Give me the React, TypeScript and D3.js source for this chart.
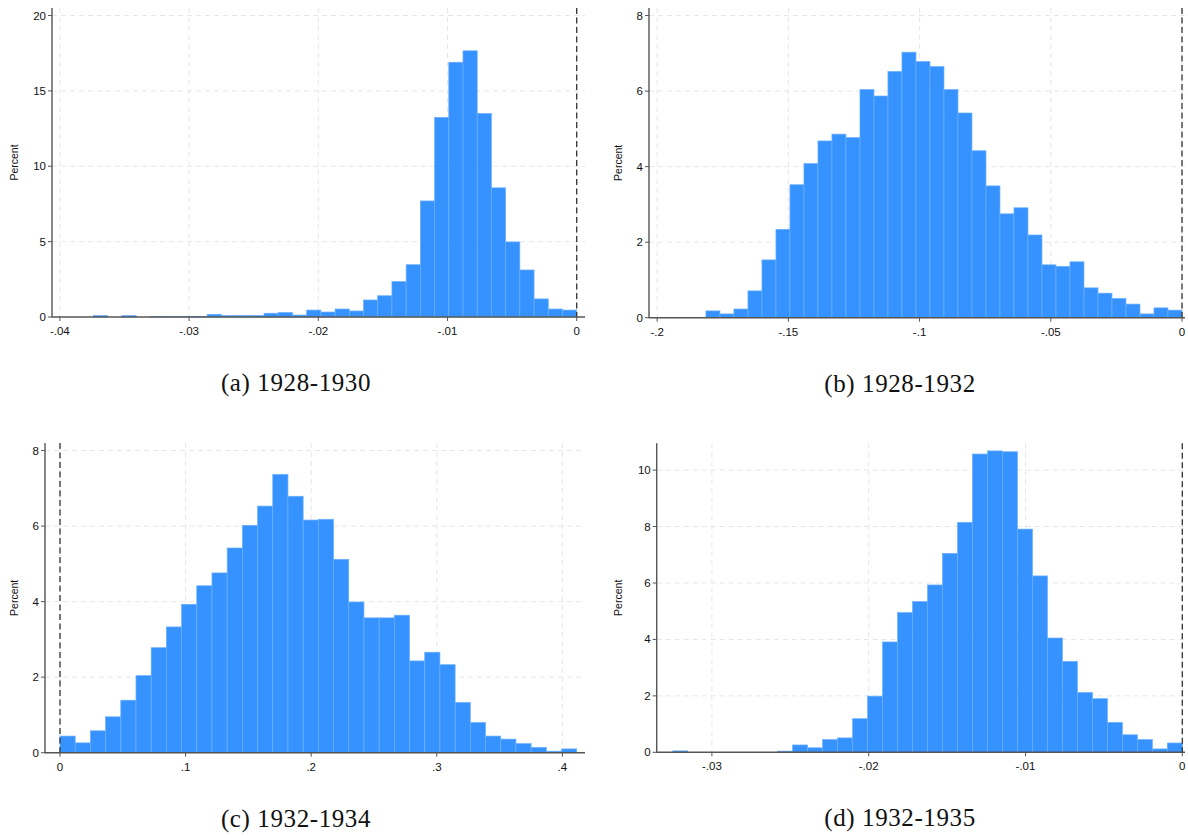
import React from "react";
import * as d3 from "d3";

// histogram heights (percent) per bin
const binsA = [0.1, 0, 0.1, 0, 0.04, 0.04, 0.04, 0.04, 0.18, 0.1, 0.1, 0.1, 0.25, 0.3, 0.13, 0.46, 0.33, 0.53, 0.4, 1.13, 1.41, 2.35, 3.47, 7.7, 13.24, 16.9, 17.66, 13.5, 8.57, 4.98, 3.12, 1.2, 0.53, 0.46];
const binsB = [0.18, 0.1, 0.23, 0.71, 1.53, 2.34, 3.52, 4.08, 4.68, 4.86, 4.77, 6.04, 5.87, 6.52, 7.03, 6.78, 6.65, 6.04, 5.42, 4.42, 3.49, 2.75, 2.91, 2.19, 1.4, 1.36, 1.48, 0.79, 0.65, 0.51, 0.36, 0.1, 0.26, 0.2];
const binsC = [0.44, 0.26, 0.58, 0.95, 1.39, 2.04, 2.78, 3.33, 3.93, 4.42, 4.76, 5.42, 6.02, 6.53, 7.37, 6.79, 6.16, 6.18, 5.12, 3.99, 3.57, 3.57, 3.64, 2.43, 2.66, 2.33, 1.33, 0.8, 0.44, 0.36, 0.24, 0.14, 0.04, 0.1];
const binsD = [0.05, 0, 0, 0, 0, 0, 0, 0.04, 0.26, 0.16, 0.45, 0.51, 1.19, 1.99, 3.91, 4.95, 5.34, 5.93, 7.05, 8.15, 10.57, 10.68, 10.65, 7.91, 6.25, 4.05, 3.22, 2.12, 1.9, 1.06, 0.62, 0.45, 0.12, 0.33];

const binStart = [-0.0374, -0.1814, 0, -0.0325];
const binWidth = [0.0011, 0.005335, 0.0121, 0.000956];

const xTicksA = [-0.04, -0.03, -0.02, -0.01, 0];
const xTicksB = [-0.2, -0.15, -0.1, -0.05, 0];
const xTicksC = [0, 0.1, 0.2, 0.3, 0.4];
const xTicksD = [-0.03, -0.02, -0.01, 0];
const yTicksA = [0, 5, 10, 15, 20];
const yTicksB = [0, 2, 4, 6, 8];
const yTicksC = [0, 2, 4, 6, 8];
const yTicksD = [0, 2, 4, 6, 8, 10];

const captions = ["(a) 1928-1930", "(b) 1928-1932", "(c) 1932-1934", "(d) 1932-1935"];
const xDomains = [[-0.04061, 0.000642], [-0.2031, 0.00114], [-0.01194, 0.418], [-0.03352, 0.000172]];
const yMax = [20.5, 8.2, 8.2, 10.95];

const BAR = "#3592fe";
const BAR_EDGE = "#6cb0ff";
const GRID = "#e6e6e6";
const SANS = "'Liberation Sans', Arial, sans-serif";

// stata style labels: -.04, .1, 0
const fmt = (v: number) => String(+v.toFixed(4)).replace(/^(-?)0\./, "$1.");

type Box = { left: number; right: number; top: number; bottom: number; cap: number; ylab: number };

type PanelProps = {
  bins: number[];
  start: number;
  width: number;
  xTicks: number[];
  yTicks: number[];
  xDomain: number[];
  top: number;
  box: Box;
  caption: string;
};

const Panel = ({ bins, start, width, xTicks, yTicks, xDomain, top, box, caption }: PanelProps) => {
  const x = d3.scaleLinear().domain(xDomain).range([box.left, box.right]);
  const y = d3.scaleLinear().domain([0, top]).range([box.bottom, box.top]);
  return (
    <g>
      {/* grid */}
      {yTicks.filter((t) => t > 0).map((t) => (
        <line key={"gy" + t} x1={box.left} x2={box.right} y1={y(t)} y2={y(t)}
          stroke={GRID} strokeWidth={1} strokeDasharray="5,4" />
      ))}
      {xTicks.map((t) => (
        <line key={"gx" + t} x1={x(t)} x2={x(t)} y1={box.top} y2={box.bottom}
          stroke={GRID} strokeWidth={1} strokeDasharray="5,4" />
      ))}
      {/* bars */}
      {bins.map((v, i) => {
        const x0 = x(start + i * width);
        const x1 = x(start + (i + 1) * width);
        if (v <= 0) return null;
        return (
          <rect key={i} x={x0} y={y(v)} width={x1 - x0} height={y(0) - y(v)}
            fill={BAR} stroke={BAR_EDGE} strokeWidth={0.7} />
        );
      })}
      {/* reference line at zero */}
      <line x1={x(0)} x2={x(0)} y1={box.top} y2={box.bottom}
        stroke="#333" strokeWidth={1.3} strokeDasharray="6,3.5" />
      {/* axes */}
      <line x1={box.left} x2={box.left} y1={box.top} y2={box.bottom + 0.5} stroke="#555" strokeWidth={1.4} />
      <line x1={box.left} x2={box.right} y1={box.bottom} y2={box.bottom} stroke="#555" strokeWidth={1.4} />
      {yTicks.map((t) => (
        <g key={"ty" + t}>
          <line x1={box.left - 4} x2={box.left} y1={y(t)} y2={y(t)} stroke="#555" strokeWidth={1} />
          <text x={box.left - 6} y={y(t)} dy="0.35em" textAnchor="end"
            fontFamily={SANS} fontSize={11.5} fill="#111">{fmt(t)}</text>
        </g>
      ))}
      {xTicks.map((t) => (
        <g key={"tx" + t}>
          <line x1={x(t)} x2={x(t)} y1={box.bottom} y2={box.bottom + 4} stroke="#555" strokeWidth={1} />
          <text x={x(t)} y={box.bottom + 18} textAnchor="middle"
            fontFamily={SANS} fontSize={11.5} fill="#111">{fmt(t)}</text>
        </g>
      ))}
      <text transform={`translate(${box.ylab},${(box.top + box.bottom) / 2}) rotate(-90)`}
        textAnchor="middle" fontFamily={SANS} fontSize={10.5} fill="#111">Percent</text>
      <text x={box.cap} y={box.bottom + 74} textAnchor="middle" letterSpacing={0.6}
        fontFamily="'Liberation Serif', 'Times New Roman', serif" fontSize={25} fill="#111">{caption}</text>
    </g>
  );
};

export default function App() {
  const boxes: Box[] = [
    { left: 52, right: 585, top: 8, bottom: 317, cap: 296, ylab: 18 },
    { left: 649, right: 1185, top: 8, bottom: 317.7, cap: 900, ylab: 622 },
    { left: 45, right: 585, top: 443, bottom: 752.7, cap: 296, ylab: 18 },
    { left: 656.7, right: 1185, top: 443.3, bottom: 752.3, cap: 900, ylab: 622 },
  ];
  const bins = [binsA, binsB, binsC, binsD];
  const xt = [xTicksA, xTicksB, xTicksC, xTicksD];
  const yt = [yTicksA, yTicksB, yTicksC, yTicksD];
  return (
    <div style={{ position: "absolute", left: 0, top: 0 }}>
      <svg width={1188} height={838} style={{ display: "block", background: "#fff" }}>
        {boxes.map((b, i) => (
          <Panel key={i} bins={bins[i]} start={binStart[i]} width={binWidth[i]}
            xTicks={xt[i]} yTicks={yt[i]} xDomain={xDomains[i]} top={yMax[i]}
            box={b} caption={captions[i]} />
        ))}
      </svg>
    </div>
  );
}
